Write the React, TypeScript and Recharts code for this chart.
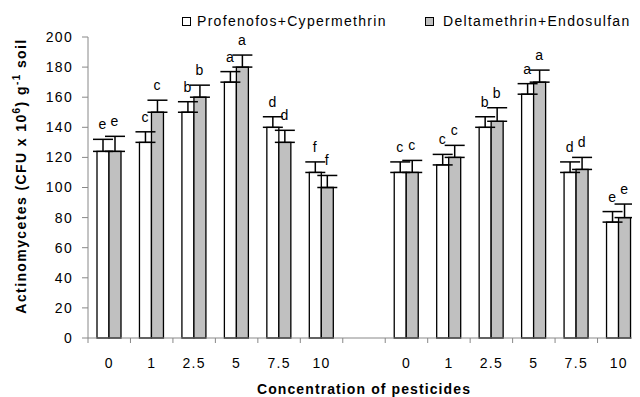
import { BarChart, Bar, XAxis, YAxis, ErrorBar, LabelList, Legend, Label } from 'recharts';

const FONT = '"Liberation Sans", Arial, sans-serif';
const GRAY = '#c0c0c0';

// concentrations, two groups with an empty slot between them
const categories = ['0', '1', '2.5', '5', '7.5', '10', '', '0', '1', '2.5', '5', '7.5', '10'];

const profenofos = [124, 130, 150, 170, 140, 110, null, 110, 115, 140, 162, 110, 77];
const profenofosErr = [8, 7, 7, 7, 7, 7, null, 7, 7, 7, 7, 7, 7];
const profenofosLetters = ['e', 'c', 'b', 'a', 'd', 'f', '', 'c', 'c', 'b', 'a', 'd', 'e'];

const deltamethrin = [124, 150, 160, 180, 130, 100, null, 110, 120, 144, 170, 112, 80];
const deltamethrinErr = [10, 8, 8, 8, 8, 8, null, 8, 8, 9, 8, 8, 9];
const deltamethrinLetters = ['e', 'c', 'b', 'a', 'd', 'f', '', 'c', 'c', 'b', 'a', 'd', 'e'];

const yTicks = [0, 20, 40, 60, 80, 100, 120, 140, 160, 180, 200];

const data = categories.map((name, i) => ({
  name,
  pc: profenofos[i],
  pcErr: profenofosErr[i] == null ? null : [0, profenofosErr[i]],
  de: deltamethrin[i],
  deErr: deltamethrinErr[i] == null ? null : [0, deltamethrinErr[i]],
}));

// LabelList skips the empty slot, so map its index back to the category index
const drawnIndex = (values: (number | null)[]) =>
  values.map((v, i) => (v == null ? -1 : i)).filter((i) => i >= 0);

// letter sits above the error bar cap
const letterLabel = (values: (number | null)[], letters: string[], errs: (number | null)[]) => {
  const idx = drawnIndex(values);
  return (props: any) => {
    const { x, y, width, height, index, value } = props;
    const i = idx[index];
    const letter = letters[i];
    if (!letter || !value) return null;
    const errPx = ((errs[i] || 0) * height) / value;
    return (
      <text
        x={x + width / 2}
        y={y - errPx - 10}
        textAnchor="middle"
        fontSize={14}
        fontFamily={FONT}
        letterSpacing={1}
        fill="#000"
      >
        {letter}
      </text>
    );
  };
};

// label under the band centre, tick mark on the band boundary
const CategoryTick = (props: any) => {
  const { x, y, payload, index } = props;
  const half = payload.offset || 0;
  const last = index === categories.length - 1;
  return (
    <g>
      <line x1={x - half} x2={x - half} y1={y} y2={y + 5} stroke="#888" />
      {last && <line x1={x + half} x2={x + half} y1={y} y2={y + 5} stroke="#888" />}
      <text x={x} y={y + 30} textAnchor="middle" fontSize={14} fontFamily={FONT} letterSpacing={1.3} fill="#000">
        {payload.value}
      </text>
    </g>
  );
};

const LegendBox = () => (
  <div style={{ position: 'relative', height: 14, fontFamily: FONT, fontSize: 14, lineHeight: '14px', letterSpacing: 1.3, color: '#000' }}>
    <div style={{ position: 'absolute', left: 174, top: 3, width: 7, height: 7, border: '1px solid #000', background: '#fff' }} />
    <span style={{ position: 'absolute', left: 189, top: 0, whiteSpace: 'nowrap' }}>Profenofos+Cypermethrin</span>
    <div style={{ position: 'absolute', left: 417, top: 3, width: 7, height: 7, border: '1px solid #000', background: GRAY }} />
    <span style={{ position: 'absolute', left: 435, top: 0, whiteSpace: 'nowrap' }}>Deltamethrin+Endosulfan</span>
  </div>
);

const YTitle = () => (
  <text
    transform="translate(18,168) rotate(-90)"
    textAnchor="middle"
    fontSize={14}
    fontWeight="bold"
    fontFamily={FONT}
    letterSpacing={1.4}
    fill="#000"
  >
    Actinomycetes (CFU x 10<tspan dy={-6} fontSize={10}>6</tspan>
    <tspan dy={6}>) g</tspan>
    <tspan dy={-6} fontSize={10}>-1</tspan>
    <tspan dy={6}> soil</tspan>
  </text>
);

export default function App() {
  return (
    <BarChart
      width={632}
      height={389}
      data={data}
      margin={{ top: 9, right: 0, left: 0, bottom: 3 }}
      barGap={0}
      barSize={12}
      style={{ fontFamily: FONT }}
    >
      <Legend
        verticalAlign="top"
        height={20}
        content={() => <LegendBox />}
        wrapperStyle={{ left: 0, top: 6, width: 632 }}
      />
      <XAxis
        dataKey="name"
        axisLine={{ stroke: '#888' }}
        tickLine={false}
        tickSize={0}
        tickMargin={0}
        interval={0}
        height={56}
        tick={<CategoryTick />}
      >
        <Label
          value="Concentration of pesticides"
          position="insideBottom"
          offset={0}
          fontSize={14}
          fontWeight="bold"
          fontFamily={FONT}
          letterSpacing={1.1}
          fill="#000"
        />
      </XAxis>
      <YAxis
        width={80}
        domain={[0, 200]}
        ticks={yTicks}
        interval={0}
        axisLine={{ stroke: '#888' }}
        tickLine={{ stroke: '#888' }}
        tickSize={6}
        tickMargin={9}
        tick={{ fontSize: 14, fill: '#000', fontFamily: FONT, letterSpacing: 1.3 }}
      >
        <Label content={() => <YTitle />} />
      </YAxis>
      <Bar dataKey="pc" fill="#fff" stroke="#000" strokeWidth={1.3} isAnimationActive={false}>
        <ErrorBar dataKey="pcErr" width={10} stroke="#000" strokeWidth={1.5} />
        <LabelList dataKey="pc" content={letterLabel(profenofos, profenofosLetters, profenofosErr)} />
      </Bar>
      <Bar dataKey="de" fill={GRAY} stroke="#000" strokeWidth={1.3} isAnimationActive={false}>
        <ErrorBar dataKey="deErr" width={10} stroke="#000" strokeWidth={1.5} />
        <LabelList dataKey="de" content={letterLabel(deltamethrin, deltamethrinLetters, deltamethrinErr)} />
      </Bar>
    </BarChart>
  );
}
